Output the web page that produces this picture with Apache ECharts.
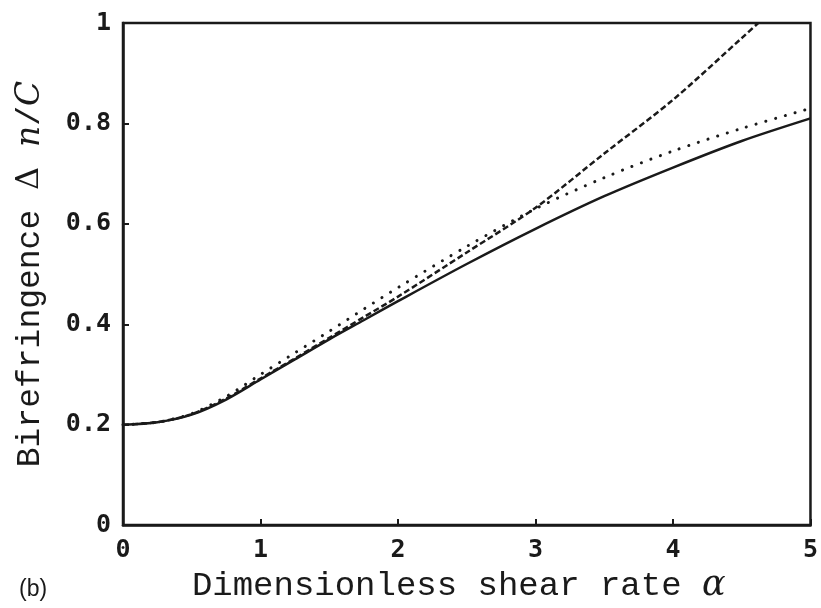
<!DOCTYPE html>
<html>
<head>
<meta charset="utf-8">
<script src="https://cdn.jsdelivr.net/npm/echarts@6/dist/echarts.min.js"></script>
<style>
	html, body { margin: 0; padding: 0; background: #fff; }
	#chart { width: 821px; height: 608px; }
</style>
</head>
<body>
<div id="chart"></div>
<script>
	// shear rate values (x) and birefringence (y)
	const alphaFull = [0, 0.25, 0.5, 0.75, 1, 1.25, 1.5, 1.75, 2, 2.5, 3, 3.5, 4, 4.5, 5];
	const solidVals = [0.200, 0.205, 0.220, 0.250, 0.290, 0.330, 0.370, 0.408, 0.446, 0.520, 0.590, 0.655, 0.712, 0.765, 0.810];
	const dottedVals = [0.200, 0.205, 0.222, 0.256, 0.300, 0.343, 0.386, 0.430, 0.473, 0.555, 0.630, 0.692, 0.745, 0.790, 0.830];
	const alphaDashed = [0, 0.25, 0.5, 0.75, 1, 1.25, 1.5, 1.75, 2, 2.5, 3, 3.5, 4, 4.5, 4.62];
	const dashedVals = [0.200, 0.205, 0.221, 0.252, 0.292, 0.332, 0.373, 0.414, 0.455, 0.543, 0.632, 0.740, 0.847, 0.970, 1.000];

	const xTicks = [0, 1, 2, 3, 4, 5];
	const yTicks = [0, 0.2, 0.4, 0.6, 0.8, 1];

	function pairs(xs, ys) {
		return xs.map((x, i) => [x, ys[i]]);
	}

	const ink = '#1a1a1a';
	const tickFont = {
		color: ink,
		fontFamily: 'DejaVu Sans Mono',
		fontWeight: 'bold',
		fontSize: 25
	};

	let option = {
		animation: false,
		backgroundColor: '#fff',
		grid: {
			left: 123,
			right: 10,
			top: 23,
			bottom: 82,
			show: true,
			borderColor: ink,
			borderWidth: 2.5
		},
		xAxis: {
			type: 'value',
			min: xTicks[0],
			max: xTicks[xTicks.length - 1],
			interval: 1,
			splitLine: { show: false },
			axisLine: { show: true, lineStyle: { color: ink, width: 2.5 } },
			axisTick: { show: true, inside: true, length: 6, lineStyle: { color: ink, width: 2 } },
			axisLabel: Object.assign({ margin: 13 }, tickFont),
			name: 'Dimensionless shear rate {a|α}',
			nameLocation: 'middle',
			nameGap: 42,
			nameTextStyle: {
				color: ink,
				fontFamily: 'Liberation Mono',
				fontSize: 34,
				padding: [0, 16, 0, 0],
				rich: {
					a: { fontFamily: 'DejaVu Serif', fontStyle: 'italic', fontSize: 35, color: ink }
				}
			}
		},
		yAxis: {
			type: 'value',
			min: yTicks[0],
			max: yTicks[yTicks.length - 1],
			interval: 0.2,
			splitLine: { show: false },
			axisLine: { show: true, lineStyle: { color: ink, width: 2.5 } },
			axisTick: { show: true, inside: true, length: 6, lineStyle: { color: ink, width: 2 } },
			axisLabel: Object.assign({ margin: 12 }, tickFont)
		},
		graphic: [
			{
				type: 'text',
				x: 30,
				y: 274,
				rotation: Math.PI / 2,
				style: {
					text: 'Birefringence {g|Δ} {i|n}/{i|C}',
					fill: ink,
					font: '33px "Liberation Mono"',
					align: 'center',
					verticalAlign: 'middle',
					rich: {
						g: { fontFamily: 'DejaVu Serif', fontSize: 32, fill: ink },
						i: { fontFamily: 'DejaVu Serif', fontStyle: 'italic', fontSize: 33, fill: ink }
					}
				}
			},
			{
				type: 'text',
				x: 19,
				y: 578,
				style: {
					text: '(b)',
					fill: ink,
					font: '23px "Liberation Sans"'
				}
			}
		],
		series: [
			{
				name: 'solid',
				type: 'line',
				data: pairs(alphaFull, solidVals),
				smooth: 0.3,
				showSymbol: false,
				clip: true,
				lineStyle: { color: ink, width: 2.5, type: 'solid' }
			},
			{
				name: 'dotted',
				type: 'line',
				data: pairs(alphaFull, dottedVals),
				smooth: 0.3,
				showSymbol: false,
				clip: true,
				lineStyle: { color: ink, width: 3, type: [0.1, 10], cap: 'round' }
			},
			{
				name: 'dashed',
				type: 'line',
				data: pairs(alphaDashed, dashedVals),
				smooth: 0.3,
				showSymbol: false,
				clip: true,
				lineStyle: { color: ink, width: 2.5, type: [6, 3] }
			}
		]
	};

	let chart = echarts.init(document.getElementById('chart'));
	chart.setOption(option);
	window.addEventListener('resize', function () {
		chart.resize();
	});
</script>
</body>
</html>
